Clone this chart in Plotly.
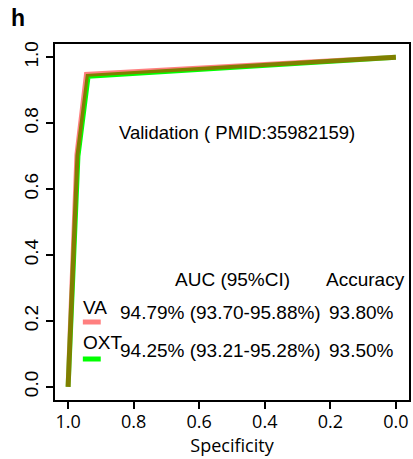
import plotly.graph_objects as go

# ROC curves (specificity on a reversed x axis, sensitivity on y)
va_specificity = [1.0, 0.973, 0.944, 0.0]
va_sensitivity = [0.0, 0.705, 0.948, 1.0]
oxt_specificity = [1.0, 0.970, 0.939, 0.0]
oxt_sensitivity = [0.0, 0.700, 0.942, 1.0]

model_names = ["VA", "OXT"]
auc_text = ["94.79% (93.70-95.88%)", "94.25% (93.21-95.28%)"]
accuracy_text = ["93.80%", "93.50%"]
tick_values = [1.0, 0.8, 0.6, 0.4, 0.2, 0.0]
tick_labels = ["1.0", "0.8", "0.6", "0.4", "0.2", "0.0"]

VA_COLOR = "rgba(255,0,0,0.5)"
OXT_COLOR = "#00FF00"

W, H = 413, 459
L, R, T, B = 55, 411, 44, 400  # plot box in pixels


def px(x):
    return (x - L) / (R - L)


def py(y):
    return (B - y) / (B - T)


fig = go.Figure()
fig.add_trace(go.Scatter(x=oxt_specificity, y=oxt_sensitivity, mode="lines",
                         line=dict(color=OXT_COLOR, width=5), name="OXT",
                         showlegend=False))
fig.add_trace(go.Scatter(x=va_specificity, y=va_sensitivity, mode="lines",
                         line=dict(color=VA_COLOR, width=5), name="VA",
                         showlegend=False))

arial = "Liberation Sans, Arial, sans-serif"
ann = []


def text(s, x, y, size=19, bold=False, fam=arial, xanchor="center"):
    ann.append(dict(text=f"<b>{s}</b>" if bold else s, x=px(x), y=py(y),
                    xref="paper", yref="paper", showarrow=False,
                    xanchor=xanchor, yanchor="middle",
                    font=dict(family=fam, size=size, color="black")))


text("h", 18, 18, size=23, bold=True)
text("Validation ( PMID:35982159)", 238.5, 132, size=18.5)
text("AUC (95%CI)", 233.5, 279)
text("Accuracy", 367, 279)

rows_name_y = [307, 342]
rows_val_y = [312, 350]
rows_seg_y = [322, 359]
colors = [VA_COLOR, OXT_COLOR]
shapes = []
for i, name in enumerate(model_names):
    text(name, 81, rows_name_y[i], xanchor="left")
    text(auc_text[i], 221, rows_val_y[i])
    text(accuracy_text[i], 363, rows_val_y[i])
    shapes.append(dict(type="line", xref="paper", yref="paper",
                       x0=px(83), x1=px(101), y0=py(rows_seg_y[i]), y1=py(rows_seg_y[i]),
                       line=dict(color=colors[i], width=5)))

axis_common = dict(showgrid=False, zeroline=False, showline=True, linecolor="black",
                   linewidth=2, mirror=True, ticks="outside", ticklen=7, tickwidth=2,
                   tickcolor="black", tickvals=tick_values, ticktext=tick_labels)

fig.update_layout(
    width=W, height=H,
    margin=dict(l=L, r=W - R, t=T, b=H - B),
    plot_bgcolor="white", paper_bgcolor="white",
    annotations=ann, shapes=shapes,
    xaxis=dict(range=[1.04, -0.04], **axis_common,
               tickfont=dict(family="Open Sans", size=18, color="black"),
               ticklabelstandoff=-3,
               title=dict(text="Specificity", standoff=7,
                          font=dict(family="Open Sans", size=18, color="black"))),
    yaxis=dict(range=[-0.04, 1.04], **axis_common, tickangle=-90,
               tickfont=dict(family=arial, size=19, color="black"),
               ticklabelstandoff=0),
)

fig.write_html("out.html")
